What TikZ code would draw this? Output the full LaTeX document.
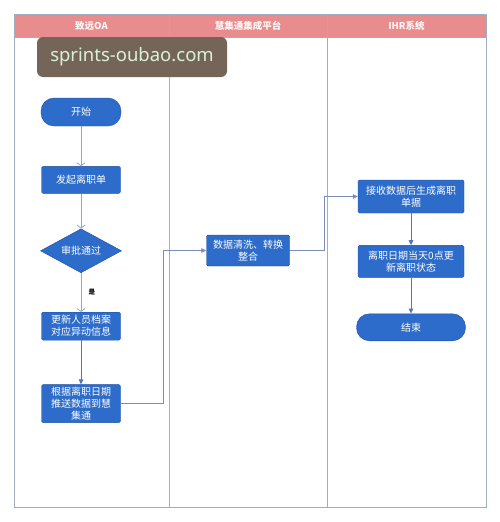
\documentclass[tikz,border=0pt]{standalone}
\usepackage{fontspec}
\usepackage{xcolor}
\usetikzlibrary{arrows.meta, positioning, shapes.geometric}
\newfontfamily\cjk{Noto Sans CJK SC}
\newfontfamily\wmfont{Noto Sans}
\definecolor{boxblue}{HTML}{2D6CCA}
\definecolor{boxedge}{HTML}{1D4F9C}
\definecolor{headpink}{HTML}{E98C8D}
\definecolor{lanegray}{HTML}{A3ADC0}
\definecolor{flowblue}{HTML}{8FA6D6}
\definecolor{stepblue}{HTML}{4F76C4}
\definecolor{wmbrown}{HTML}{756559}
\definecolor{wmtext}{HTML}{D9F2DA}

\begin{document}
\begin{tikzpicture}[
    x=1pt, y=-1pt,
    lanehead/.style={rectangle, fill=headpink, draw=lanegray, line width=0.6pt, minimum width=#1, minimum height=23pt, inner sep=0pt, text=white!92!headpink, font=\cjk\fontsize{9.5}{11}\selectfont\bfseries},
    lane/.style={draw=lanegray, line width=0.7pt},
    task/.style={rectangle, draw=boxedge, fill=boxblue, text=white, rounded corners=1.5pt, minimum width=79pt, minimum height=27pt, inner sep=1pt, align=center, font=\cjk\fontsize{10}{12}\selectfont},
    terminal/.style={task, rounded corners=13pt},
    decision/.style={diamond, draw=boxedge, fill=boxblue, text=white, aspect=1.85, minimum width=81pt, minimum height=44pt, inner sep=0pt, font=\cjk\fontsize{10}{12}\selectfont},
    openflow/.style={-{Straight Barb[length=3pt, width=8pt]}, draw=flowblue, line width=0.8pt},
    flow/.style={-{Triangle[length=5pt, width=4.5pt]}, draw=stepblue, line width=0.9pt},
    link/.style={-{Triangle[length=5pt, width=4.5pt]}, draw=flowblue!85!black, line width=0.8pt},
]
\useasboundingbox (0,0) rectangle (500,522);

% Swimlanes
\node[lanehead=155pt] (laneoa)  at (91.5,25.5) {致远OA};
\node[lanehead=158pt] (lanehub) at (248,25.5)  {慧集通集成平台};
\node[lanehead=159pt] (laneihr) at (406.5,25.5) {IHR系统};
\draw[lane] (14,14) rectangle (486,507);
\draw[lane] (169,14) -- (169,507);
\draw[lane] (327,14) -- (327,507);

% Nodes -- 致远OA
\node[terminal, minimum width=80pt, minimum height=28pt] (start) at (81,112) {开始};
\node[task, below=40pt of start] (launch) {发起离职单};
\node[decision, below=35pt of launch] (approve) {审批通过};
\node[task, minimum height=28pt, below=39pt of approve] (update) {更新人员档案\\对应异动信息};
\node[task, minimum height=38pt, below=44pt of update] (push) {根据离职日期\\推送数据到慧\\集通};

% Nodes -- 慧集通集成平台
\node[task, minimum width=83pt, minimum height=31pt] (clean) at (248,250.5) {数据清洗、转换\\整合};

% Nodes -- IHR系统
\node[task, minimum width=106pt, minimum height=33pt] (receive) at (411,196.5) {接收数据后生成离职\\单据};
\node[task, minimum width=106pt, minimum height=32pt, below=32pt of receive] (status) {离职日期当天0点更\\新离职状态};
\node[terminal, minimum width=109pt, below=36pt of status] (finish) {结束};

% Arrows
\draw[openflow] (start) -- (launch);
\draw[openflow] (launch) -- (approve);
\draw[openflow] (approve) -- node[pos=0.5, right=4pt, font=\cjk\fontsize{6.5}{8}\selectfont\bfseries] {是} (update);
\draw[flow] (update) -- (push);
\draw[link] (push.east) -- ++(43,0) |- (clean.west);
\draw[link] (clean.east) -- ++(35,0) |- (receive.west);
\draw[flow] (receive) -- (status);
\draw[flow] (status) -- (finish);

% Watermark
\node[rectangle, rounded corners=6pt, fill=wmbrown, minimum width=190pt, minimum height=40pt, inner sep=0pt, text=wmtext, font=\wmfont\fontsize{18.5}{20}\selectfont] (mark) at (132,57) {sprints-oubao.com};

\end{tikzpicture}
\end{document}
